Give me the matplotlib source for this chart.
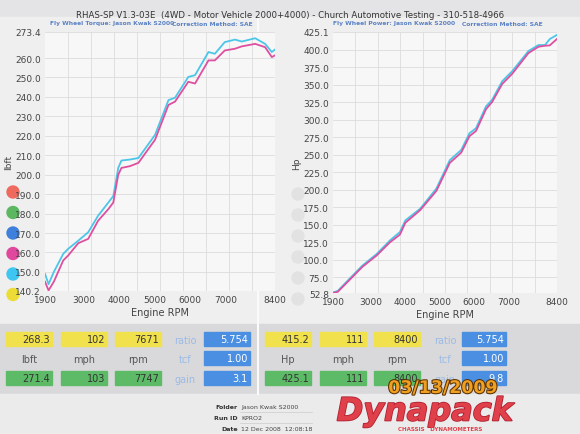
import numpy as np
import matplotlib.pyplot as plt
from matplotlib.patches import Rectangle, Circle
from matplotlib.ticker import FixedLocator
import matplotlib.patheffects as pe

# 扭矩曲线数据 (lbft)
torque_rpm = [1900, 2000, 2150, 2415, 2557, 2840, 3120, 3400, 3690, 3830, 3970, 4060, 4300, 4540,
              5010, 5390, 5575, 5950, 6140, 6520, 6700, 6980, 7270, 7460, 7840, 8120, 8310, 8400]
torque_cyan = [149.0, 143.7, 150.0, 159.3, 161.9, 166.1, 170.4, 178.9, 185.7, 189.0, 203.5, 207.3, 207.8, 208.6,
               220.5, 238.4, 239.6, 250.3, 251.2, 263.1, 262.2, 268.2, 269.5, 268.5, 270.2, 267.3, 263.1, 264.4]
torque_pink = [145.0, 140.5, 145.0, 155.9, 158.5, 164.8, 167.0, 176.3, 182.3, 185.7, 200.0, 203.5, 204.4, 206.1,
               218.0, 235.9, 237.6, 247.8, 246.9, 258.8, 258.8, 263.9, 264.8, 266.0, 267.3, 265.6, 260.5, 261.4]

# 功率曲线数据 (Hp)
power_rpm = [1900, 2040, 2370, 2750, 3170, 3550, 3840, 4000, 4430, 4900, 5290, 5620, 5860, 6050,
             6340, 6520, 6810, 7100, 7570, 7860, 8050, 8190, 8400]
power_cyan = [53.5, 55.9, 72.7, 91.8, 108.6, 127.7, 139.7, 156.4, 173.1, 201.8, 242.4, 256.8, 280.7, 287.9,
              319.0, 328.6, 354.9, 369.2, 397.9, 406.5, 406.5, 415.0, 421.0]
power_pink = [53.0, 54.5, 71.0, 90.0, 106.5, 125.0, 136.0, 153.0, 171.0, 198.5, 238.5, 253.0, 276.5, 284.0,
              315.0, 325.5, 351.0, 365.5, 395.0, 404.0, 405.5, 406.0, 415.2]

x_ticks = [1900, 3000, 4000, 5000, 6000, 7000, 8400]
torque_ticks = [140.2] + list(range(150, 270, 10)) + [273.4]
power_ticks = [52.8] + list(range(75, 425, 25)) + [425.1]

# 表格数据
left_yellow = ["268.3", "102", "7671"]
left_green = ["271.4", "103", "7747"]
left_units = ["lbft", "mph", "rpm"]
left_blue = ["5.754", "1.00", "3.1"]
right_yellow = ["415.2", "111", "8400"]
right_green = ["425.1", "111", "8400"]
right_units = ["Hp", "mph", "rpm"]
right_blue = ["5.754", "1.00", "9.8"]
blue_labels = ["ratio", "tcf", "gain"]

dot_colors = ["#ef6a5e", "#5cb860", "#3f80dc", "#e0489e", "#3ec6f2", "#eedc36"]

CYAN = "#4cc6e8"
PINK = "#de4fa0"

fig = plt.figure(figsize=(5.8, 4.35), dpi=100, facecolor="#e4e4e6")

# 背景层，用像素坐标
bg = fig.add_axes([0, 0, 1, 1], zorder=0)
bg.set_xlim(0, 580)
bg.set_ylim(435, 0)
bg.axis("off")
bg.add_patch(Rectangle((0, 18), 580, 307, color="#efefef"))
bg.add_patch(Rectangle((0, 325), 580, 70, color="#d9d9db"))
bg.add_patch(Rectangle((0, 395), 580, 40, color="#ebebec"))
bg.plot([258, 258], [18, 395], color="#fafafa", lw=1.5)

bg.text(290, 15, "RHAS-SP V1.3-03E  (4WD - Motor Vehicle 2000+4000) - Church Automotive Testing - 310-518-4966",
        ha="center", va="center", fontsize=6.2, color="#333333")
bg.text(50, 24, "Fly Wheel Torque: Jason Kwak S2000", fontsize=4.3, color="#5b82c4", weight="bold", va="center")
bg.text(172, 24, "Correction Method: SAE", fontsize=4.3, color="#5b82c4", weight="bold", va="center")
bg.text(333, 24, "Fly Wheel Power: Jason Kwak S2000", fontsize=4.3, color="#5b82c4", weight="bold", va="center")
bg.text(462, 24, "Correction Method: SAE", fontsize=4.3, color="#5b82c4", weight="bold", va="center")

# 左侧彩色圆点 和 右侧灰色圆点
for i, c in enumerate(dot_colors):
    bg.add_patch(Circle((13, 193 + i * 20.5), 6, color=c))
    bg.add_patch(Circle((298, 195 + i * 21), 6, color="#e2e2e2"))


def draw_chart(rect, rpm, cyan, pink, yticks, ylabel):
    ax = fig.add_axes(rect, zorder=1)
    ax.set_facecolor("#f7f7f7")
    ax.plot(rpm, cyan, color=CYAN, lw=1.3)
    ax.plot(rpm, pink, color=PINK, lw=1.3)
    ax.set_xlim(1900, 8400)
    ax.set_ylim(yticks[0], yticks[-1])
    ax.set_xticks(x_ticks)
    ax.set_yticks(yticks)
    ax.set_yticklabels([f"{t:.1f}" for t in yticks])
    ax.xaxis.set_minor_locator(FixedLocator(np.linspace(1900, 8400, 11)))
    ax.grid(True, which="minor", axis="x", color="#dcdcdc", lw=0.6)
    ax.grid(True, which="major", axis="y", color="#dcdcdc", lw=0.6)
    ax.tick_params(which="both", length=0, labelsize=6.5, labelcolor="#444444", pad=3)
    for s in ax.spines.values():
        s.set_visible(False)
    ax.set_xlabel("Engine RPM", fontsize=7, color="#444444", labelpad=2)
    ax.set_ylabel(ylabel, fontsize=6.5, color="#444444", labelpad=1)
    return ax


draw_chart([45 / 580, (435 - 292) / 435, 230 / 580, 259 / 435],
           torque_rpm, torque_cyan, torque_pink, torque_ticks, "lbft")
draw_chart([333 / 580, (435 - 294) / 435, 224 / 580, 261 / 435],
           power_rpm, power_cyan, power_pink, power_ticks, "Hp")

# 底部数值表格
rows_y = [333, 352, 372]
box_h = 14


def value_box(x, y, w, txt, color, tcolor="#333333"):
    bg.add_patch(Rectangle((x, y), w, box_h, color=color))
    bg.text(x + w - 2, y + box_h / 2 + 0.5, txt, ha="right", va="center", fontsize=7, color=tcolor)


for xs, yel, grn, units, blue, bx, lx, bw in [
        ([6, 61, 115], left_yellow, left_green, left_units, left_blue, 204, 185, 46),
        ([265, 320, 374], right_yellow, right_green, right_units, right_blue, 462, 445, 44)]:
    for x, a, b, u in zip(xs, yel, grn, units):
        value_box(x, rows_y[0], 46, a, "#f1e14c")
        value_box(x, rows_y[2], 46, b, "#5dbb68")
        bg.text(x + 23, rows_y[1] + 8, u, ha="center", va="center", fontsize=7, color="#555555")
    for y, v, lab in zip(rows_y, blue, blue_labels):
        value_box(bx, y, bw, v, "#4a8fe2", tcolor="white")
        bg.text(lx, y + 8, lab, ha="center", va="center", fontsize=7, color="#9bbbe6")

# 日期水印
bg.text(443, 389, "03/13/2009", ha="center", va="center", fontsize=12.5, color="#f0a020", weight="bold",
        path_effects=[pe.withStroke(linewidth=1.5, foreground="#5a3000")])

# 底部信息
for y, k, v in [(408, "Folder", "Jason Kwak S2000"), (419, "Run ID", "KPRO2"), (430, "Date", "12 Dec 2008  12:08:18")]:
    bg.text(238, y, k, ha="right", va="center", fontsize=4.5, color="#333333", weight="bold")
    bg.text(241, y, v, ha="left", va="center", fontsize=4.5, color="#444444")
    bg.plot([240, 312], [y + 5, y + 5], color="#cccccc", lw=0.5)
bg.text(425, 413, "Dynapack", ha="center", va="center", fontsize=23, color="#e0404a", weight="bold",
        style="italic", path_effects=[pe.withStroke(linewidth=1.2, foreground="#b02030")])
bg.text(440, 430, "CHASSIS   DYNAMOMETERS", ha="center", va="center", fontsize=4, color="#e0404a", weight="bold")

fig.savefig("out.png", dpi=100, facecolor=fig.get_facecolor())
